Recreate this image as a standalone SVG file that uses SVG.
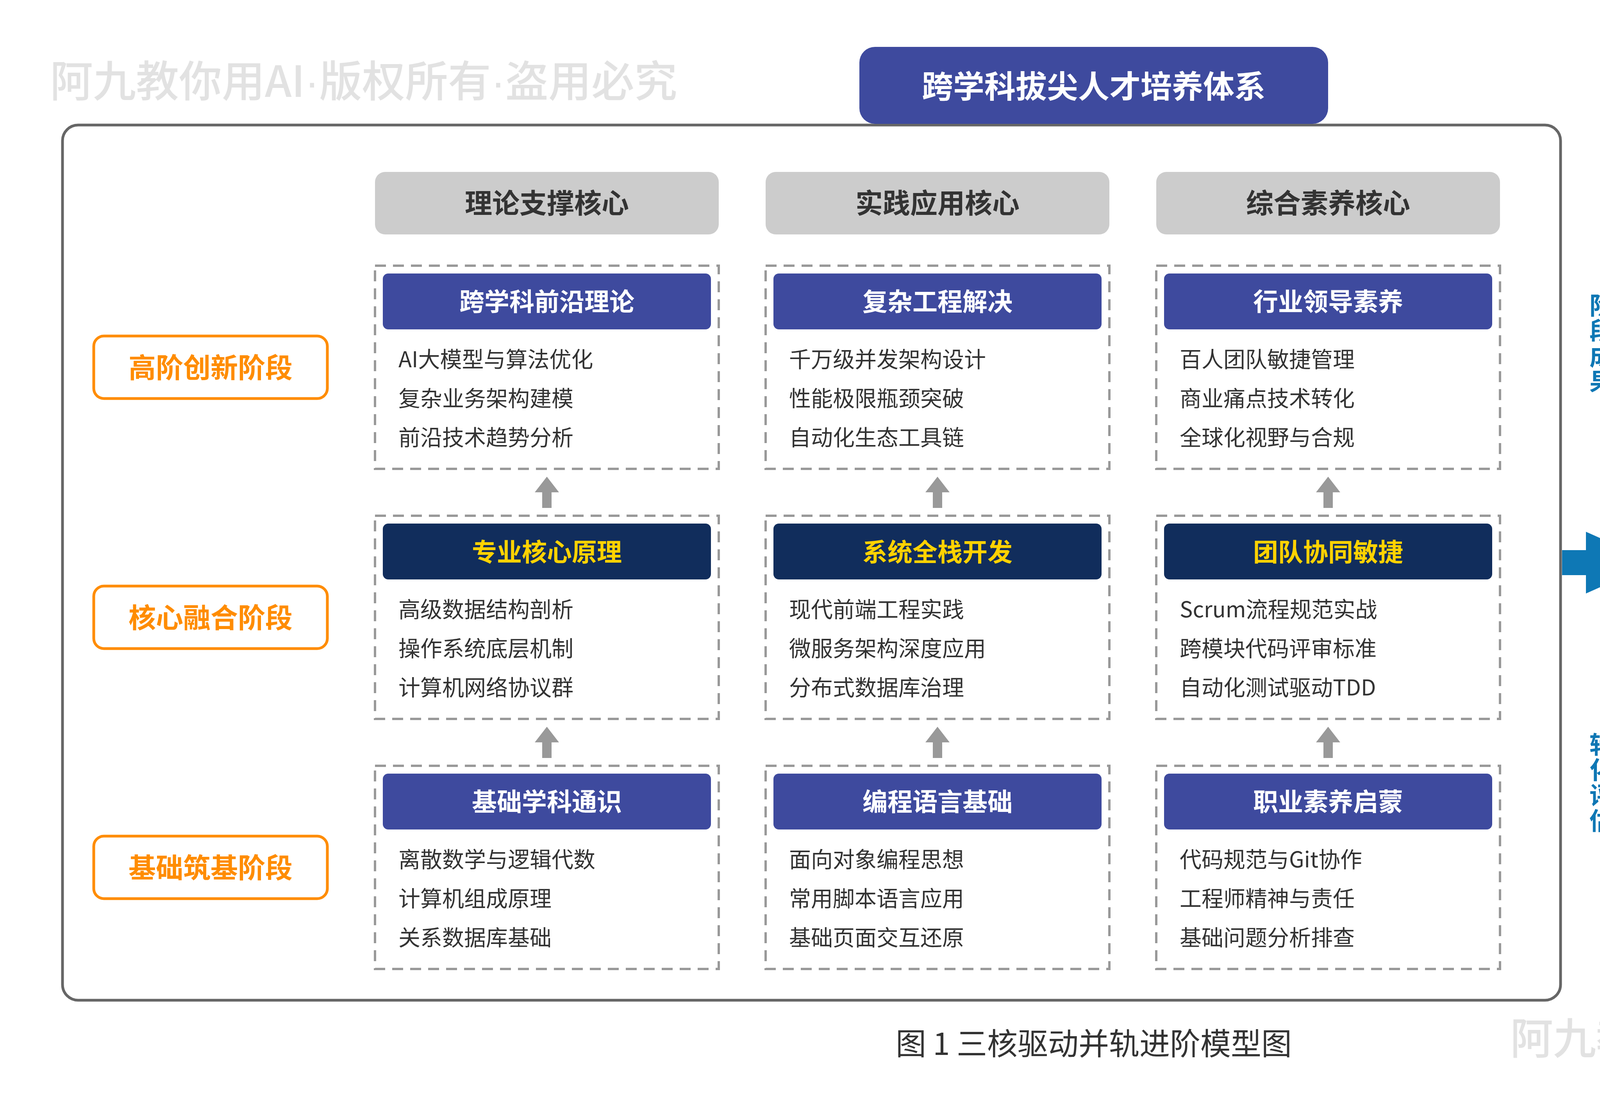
<svg xmlns="http://www.w3.org/2000/svg" width="5600" height="2800" viewBox="0 0 5600 2800">
<style>
text{font-family:"Noto Sans CJK SC","Noto Sans",sans-serif;}
.wm{font-size:110px;fill:#E2E2E2;font-weight:500;}
.dot{font-family:"Liberation Sans",sans-serif;}
.frame{fill:#fff;stroke:#666;stroke-width:7;}
.colhead{fill:#CCCCCC;}
.colheadt{font-size:70px;font-weight:bold;fill:#333;text-anchor:middle;}
.dash{fill:none;stroke:#999;stroke-width:6;stroke-dasharray:28 18;}
.barA{fill:#3E4A9E;}
.barB{fill:#112D5C;}
.barAt{font-size:64px;font-weight:bold;fill:#fff;text-anchor:middle;}
.barBt{font-size:64px;font-weight:bold;fill:#FFD200;text-anchor:middle;}
.item{font-size:56px;fill:#333;}
.stage{fill:#fff;stroke:#FF8C00;stroke-width:7;}
.staget{font-size:70px;font-weight:bold;fill:#FF8C00;text-anchor:middle;}
.upar{fill:#999;}
.vt{font-size:62px;font-weight:bold;fill:#0E77B4;writing-mode:vertical-rl;letter-spacing:3px;}
.dim{font-size:55px;font-weight:bold;fill:#fff;}
.mi{font-size:55px;fill:#fff;}
.bul{fill:#fff;}
</style>
<defs>
<path id="uparrow" d="M-12,80 L-12,40 L-31,40 L0,0 L31,40 L12,40 L12,80 Z"/>
</defs>
<rect width="5600" height="2800" fill="#fff"/>

<text class="wm" x="128" y="248">阿九教你用AI<tspan class="dot">·</tspan>版权所有<tspan class="dot">·</tspan>盗用必究</text>
<text class="wm" x="3866" y="2698">阿九教你用AI<tspan class="dot">·</tspan>版权所有<tspan class="dot">·</tspan>盗用必究</text>

<g id="main-frame">
<rect class="frame" x="160" y="320" width="3835" height="2240" rx="40"/>
</g>
<g id="title">
<rect x="2200" y="120" width="1200" height="197" rx="40" fill="#3E4A9E"/>
<text x="2800" y="250" font-size="80" font-weight="bold" fill="#fff" text-anchor="middle">跨学科拔尖人才培养体系</text>
</g>

<g id="col-headers">
<rect class="colhead" x="960" y="440" width="880" height="160" rx="26"/>
<text class="colheadt" x="1400" y="546">理论支撑核心</text>
<rect class="colhead" x="1960" y="440" width="880" height="160" rx="26"/>
<text class="colheadt" x="2400" y="546">实践应用核心</text>
<rect class="colhead" x="2960" y="440" width="880" height="160" rx="26"/>
<text class="colheadt" x="3400" y="546">综合素养核心</text>
</g>

<g id="stage-high">
<rect class="stage" x="240" y="860" width="598" height="160" rx="26"/>
<text class="staget" x="539" y="967">高阶创新阶段</text>
</g>
<g id="stage-mid">
<rect class="stage" x="240" y="1500" width="598" height="160" rx="26"/>
<text class="staget" x="539" y="1607">核心融合阶段</text>
</g>
<g id="stage-base">
<rect class="stage" x="240" y="2140" width="598" height="160" rx="26"/>
<text class="staget" x="539" y="2247">基础筑基阶段</text>
</g>

<g id="n-frontier">
<rect class="dash" x="960" y="680" width="880" height="520"/>
<rect class="barA" x="980" y="700" width="840" height="143" rx="14"/>
<text class="barAt" x="1400" y="795">跨学科前沿理论</text>
<text class="item" x="1020" y="940">AI大模型与算法优化</text>
<text class="item" x="1020" y="1040">复杂业务架构建模</text>
<text class="item" x="1020" y="1140">前沿技术趋势分析</text>
</g>
<g id="n-core-principle">
<rect class="dash" x="960" y="1320" width="880" height="520"/>
<rect class="barB" x="980" y="1340" width="840" height="143" rx="14"/>
<text class="barBt" x="1400" y="1436">专业核心原理</text>
<text class="item" x="1020" y="1580">高级数据结构剖析</text>
<text class="item" x="1020" y="1680">操作系统底层机制</text>
<text class="item" x="1020" y="1780">计算机网络协议群</text>
</g>
<g id="n-basic-discipline">
<rect class="dash" x="960" y="1960" width="880" height="520"/>
<rect class="barA" x="980" y="1980" width="840" height="143" rx="14"/>
<text class="barAt" x="1400" y="2075">基础学科通识</text>
<text class="item" x="1020" y="2220">离散数学与逻辑代数</text>
<text class="item" x="1020" y="2320">计算机组成原理</text>
<text class="item" x="1020" y="2420">关系数据库基础</text>
</g>

<g id="n-complex-eng">
<rect class="dash" x="1960" y="680" width="880" height="520"/>
<rect class="barA" x="1980" y="700" width="840" height="143" rx="14"/>
<text class="barAt" x="2400" y="795">复杂工程解决</text>
<text class="item" x="2020" y="940">千万级并发架构设计</text>
<text class="item" x="2020" y="1040">性能极限瓶颈突破</text>
<text class="item" x="2020" y="1140">自动化生态工具链</text>
</g>
<g id="n-fullstack">
<rect class="dash" x="1960" y="1320" width="880" height="520"/>
<rect class="barB" x="1980" y="1340" width="840" height="143" rx="14"/>
<text class="barBt" x="2400" y="1436">系统全栈开发</text>
<text class="item" x="2020" y="1580">现代前端工程实践</text>
<text class="item" x="2020" y="1680">微服务架构深度应用</text>
<text class="item" x="2020" y="1780">分布式数据库治理</text>
</g>
<g id="n-lang-basic">
<rect class="dash" x="1960" y="1960" width="880" height="520"/>
<rect class="barA" x="1980" y="1980" width="840" height="143" rx="14"/>
<text class="barAt" x="2400" y="2075">编程语言基础</text>
<text class="item" x="2020" y="2220">面向对象编程思想</text>
<text class="item" x="2020" y="2320">常用脚本语言应用</text>
<text class="item" x="2020" y="2420">基础页面交互还原</text>
</g>

<g id="n-leadership">
<rect class="dash" x="2960" y="680" width="880" height="520"/>
<rect class="barA" x="2980" y="700" width="840" height="143" rx="14"/>
<text class="barAt" x="3400" y="795">行业领导素养</text>
<text class="item" x="3020" y="940">百人团队敏捷管理</text>
<text class="item" x="3020" y="1040">商业痛点技术转化</text>
<text class="item" x="3020" y="1140">全球化视野与合规</text>
</g>
<g id="n-team-agile">
<rect class="dash" x="2960" y="1320" width="880" height="520"/>
<rect class="barB" x="2980" y="1340" width="840" height="143" rx="14"/>
<text class="barBt" x="3400" y="1436">团队协同敏捷</text>
<text class="item" x="3020" y="1580">Scrum流程规范实战</text>
<text class="item" x="3020" y="1680">跨模块代码评审标准</text>
<text class="item" x="3020" y="1780">自动化测试驱动TDD</text>
</g>
<g id="n-career">
<rect class="dash" x="2960" y="1960" width="880" height="520"/>
<rect class="barA" x="2980" y="1980" width="840" height="143" rx="14"/>
<text class="barAt" x="3400" y="2075">职业素养启蒙</text>
<text class="item" x="3020" y="2220">代码规范与Git协作</text>
<text class="item" x="3020" y="2320">工程师精神与责任</text>
<text class="item" x="3020" y="2420">基础问题分析排查</text>
</g>

<g id="connectors">
<use href="#uparrow" class="upar" x="1400" y="1220"/>
<use href="#uparrow" class="upar" x="2400" y="1220"/>
<use href="#uparrow" class="upar" x="3400" y="1220"/>
<use href="#uparrow" class="upar" x="1400" y="1860"/>
<use href="#uparrow" class="upar" x="2400" y="1860"/>
<use href="#uparrow" class="upar" x="3400" y="1860"/>
<path d="M3999,1408 H4060 V1361 L4237,1440 L4060,1519 V1472 H3999 Z" fill="#0E78B5"/>
</g>

<g id="label-result">
<text class="vt" x="4100" y="750">阶段成果</text>
</g>
<g id="label-eval">
<text class="vt" x="4100" y="1874">转化评估</text>
</g>

<g id="matrix">
<rect class="frame" x="4240" y="320" width="1200" height="2240" rx="40"/>
<rect x="4320" y="400" width="1040" height="2080" rx="40" fill="#0E78B5"/>
<text x="4420" y="1152" font-size="90" font-weight="bold" fill="#fff" style="writing-mode:vertical-rl;letter-spacing:6px">能力评价矩阵</text>
</g>

<g id="dim-process">
<rect x="4600" y="460" width="680" height="921" fill="none" stroke="#fff" stroke-width="6" stroke-dasharray="30 16"/>
<text class="dim" x="4663" y="584">维度一：过程性指标</text>
<rect class="bul" x="4666" y="700" width="17" height="17"/>
<text class="mi" x="4709" y="724">架构设计评审通率</text>
<rect class="bul" x="4666" y="820" width="17" height="17"/>
<text class="mi" x="4709" y="844">每日构建成功率</text>
<rect class="bul" x="4666" y="940" width="17" height="17"/>
<text class="mi" x="4709" y="964">核心代码测试覆盖</text>
<rect class="bul" x="4666" y="1060" width="17" height="17"/>
<text class="mi" x="4709" y="1084">技术方案沉淀产出</text>
<rect class="bul" x="4666" y="1180" width="17" height="17"/>
<text class="mi" x="4709" y="1204">阶段迭代准时交付</text>
</g>

<g id="core-label">
<text x="4940" y="1461" font-size="71" font-weight="bold" fill="#FF0000" text-anchor="middle">核心评测指标</text>
</g>

<g id="dim-result">
<rect x="4598" y="1495" width="682" height="925" fill="none" stroke="#FF0000" stroke-width="10" stroke-dasharray="30 16"/>
<text class="dim" x="4663" y="1622">维度二：结果性指标</text>
<rect class="bul" x="4666" y="1738" width="17" height="17"/>
<text class="mi" x="4709" y="1762">系统极限并发压测</text>
<rect class="bul" x="4666" y="1858" width="17" height="17"/>
<text class="mi" x="4709" y="1882">重大线上故障拦截</text>
<rect class="bul" x="4666" y="1978" width="17" height="17"/>
<text class="mi" x="4709" y="2002">企业级实战认证考</text>
<rect class="bul" x="4666" y="2098" width="17" height="17"/>
<text class="mi" x="4709" y="2122">跨团队协同互评分</text>
<rect class="bul" x="4666" y="2218" width="17" height="17"/>
<text class="mi" x="4709" y="2242">综合答辩最终评级</text>
</g>

<text x="2800" y="2700" font-size="78" fill="#333" text-anchor="middle">图 1 三核驱动并轨进阶模型图</text>
</svg>
